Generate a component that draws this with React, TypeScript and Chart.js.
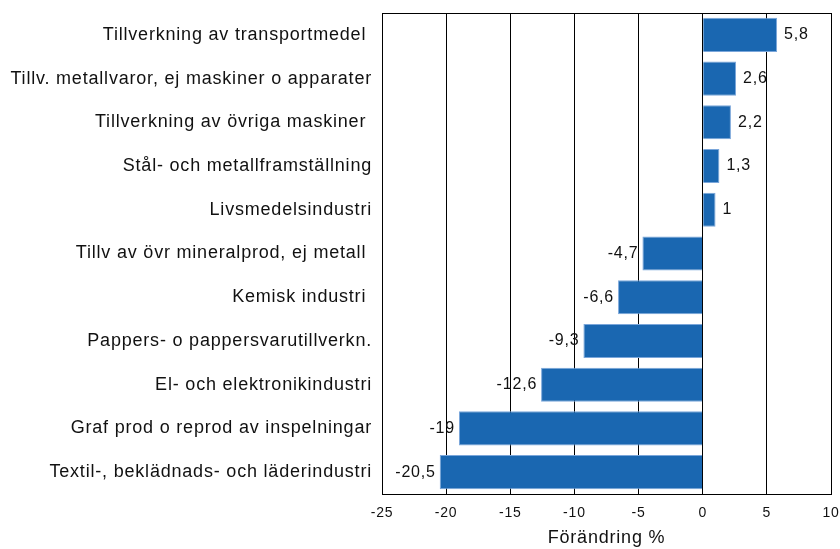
import React, { useEffect, useRef } from "react";
import { Chart, registerables } from "chart.js";

Chart.register(...registerables);

const categories = [
  "Tillverkning av transportmedel ",
  "Tillv. metallvaror, ej maskiner o apparater",
  "Tillverkning av övriga maskiner ",
  "Stål- och metallframställning",
  "Livsmedelsindustri",
  "Tillv av övr mineralprod, ej metall ",
  "Kemisk industri ",
  "Pappers- o pappersvarutillverkn.",
  "El- och elektronikindustri",
  "Graf prod o reprod av inspelningar",
  "Textil-, beklädnads- och läderindustri",
];
const values = [5.8, 2.6, 2.2, 1.3, 1, -4.7, -6.6, -9.3, -12.6, -19, -20.5];
const xTicks = [-25, -20, -15, -10, -5, 0, 5, 10];
const axisTitle = "Förändring %";

const FONT = "'Liberation Sans', Arial, sans-serif";

const spacingPlugin = {
  id: "spacing",
  beforeInit(chart: any) {
    chart.ctx.letterSpacing = "0.8px";
  },
  beforeDraw(chart: any) {
    chart.ctx.letterSpacing = "0.8px";
  },
};

const framePlugin = {
  id: "frame",
  afterDraw(chart: any) {
    const { ctx, chartArea } = chart;
    ctx.save();
    ctx.strokeStyle = "#000";
    ctx.lineWidth = 1;
    ctx.strokeRect(
      Math.round(chartArea.left) + 0.5,
      Math.round(chartArea.top) + 0.5,
      Math.round(chartArea.right - chartArea.left),
      Math.round(chartArea.bottom - chartArea.top)
    );
    ctx.restore();
  },
};

const labelPlugin = {
  id: "valueLabels",
  afterDatasetsDraw(chart: any) {
    const { ctx } = chart;
    const meta = chart.getDatasetMeta(0);
    ctx.save();
    ctx.font = `16px ${FONT}`;
    ctx.fillStyle = "#111";
    ctx.textBaseline = "middle";
    meta.data.forEach((el: any, i: number) => {
      const v = values[i];
      const txt = String(v).replace(".", ",");
      if (v >= 0) {
        ctx.textAlign = "left";
        ctx.fillText(txt, el.x + 7, el.y);
      } else {
        ctx.textAlign = "right";
        ctx.fillText(txt, el.x - 4, el.y);
      }
    });
    ctx.restore();
  },
};

export default function App() {
  const ref = useRef<HTMLCanvasElement>(null);
  useEffect(() => {
    document.body.style.margin = "0";
    const chart = new Chart(ref.current!, {
      type: "bar",
      data: {
        labels: categories,
        datasets: [
          {
            data: values,
            backgroundColor: "#1a67b1",
            borderColor: "#7aa6da",
            borderWidth: 1,
            barPercentage: 0.78,
            categoryPercentage: 1,
          },
        ],
      },
      options: {
        indexAxis: "y",
        animation: false,
        responsive: false,
        layout: { padding: { top: 13, right: 9, left: 0, bottom: 0 } },
        plugins: { legend: { display: false }, tooltip: { enabled: false } },
        scales: {
          x: {
            min: -25,
            max: 10,
            afterBuildTicks: (scale: any) => {
              scale.ticks = xTicks.map((v) => ({ value: v }));
            },
            afterFit: (scale: any) => {
              scale.height = 55;
              scale.paddingLeft = 0;
              scale.paddingRight = 0;
            },
            grid: { color: "#000", lineWidth: 1, drawTicks: false },
            border: { display: true, color: "#000" },
            ticks: {
              color: "#111",
              font: { family: FONT, size: 14 },
              padding: 11,
              maxRotation: 0,
            },
            title: {
              display: true,
              text: axisTitle,
              color: "#111",
              font: { family: FONT, size: 18 },
              padding: { top: 5, bottom: 0 },
            },
          },
          y: {
            afterFit: (scale: any) => {
              scale.width = 382;
              scale.paddingTop = 0;
              scale.paddingBottom = 0;
            },
            grid: { display: false, drawTicks: false },
            border: { display: true, color: "#000" },
            ticks: {
              color: "#111",
              font: { family: FONT, size: 18 },
              padding: 10,
              autoSkip: false,
            },
          },
        },
      },
      plugins: [spacingPlugin, framePlugin, labelPlugin],
    });
    return () => chart.destroy();
  }, []);
  return (
    <div style={{ width: 840, height: 549 }}>
      <canvas ref={ref} width={840} height={549} style={{ display: "block" }} />
    </div>
  );
}
